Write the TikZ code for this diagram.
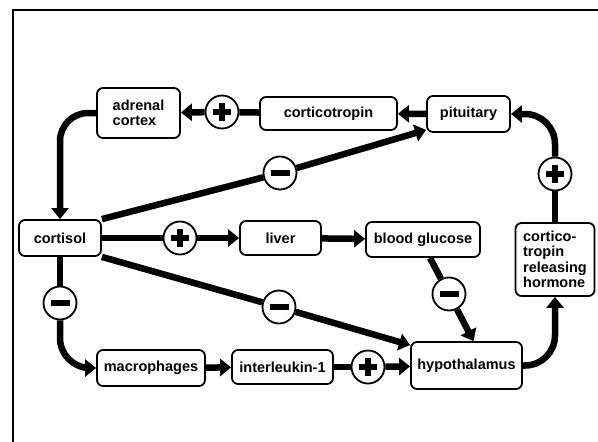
\documentclass[tikz,border=0pt]{standalone}
\usepackage{fontspec}
\setmainfont{Liberation Sans}
\usetikzlibrary{positioning}
\usetikzlibrary{arrows.meta}

\begin{document}
\begin{tikzpicture}[
  x=1pt, y=-1pt,
  font=\fontsize{14.5}{15.5}\selectfont\bfseries,
  box/.style={draw, line width=1.8pt, rounded corners=6pt, align=left, inner sep=2pt},
  sign/.style={draw, circle, line width=1.8pt, minimum size=33pt, inner sep=0pt, fill=white},
  stim/.style={sign, path picture={
      \draw[line width=5.5pt] ([xshift=-9pt]path picture bounding box.center) -- ([xshift=9pt]path picture bounding box.center);
      \draw[line width=5.5pt] ([yshift=-9pt]path picture bounding box.center) -- ([yshift=9pt]path picture bounding box.center);}},
  inhib/.style={sign, path picture={
      \draw[line width=5.5pt] ([xshift=-9.5pt]path picture bounding box.center) -- ([xshift=9.5pt]path picture bounding box.center);}},
  link/.style={line width=6.5pt},
  arrow/.style={link, -{Triangle[length=11pt, width=17pt]}}
]
\useasboundingbox (0,0) rectangle (598,442);
\begin{scope}
  \clip (0,0) rectangle (598,442);
  \draw[line width=2pt] (12.5,460) |- (620,9.5);
\end{scope}

\node[box, minimum width=83pt, minimum height=50pt] (adrenal) at (138.5,113) {adrenal\\cortex};
\node[box, minimum width=137pt, minimum height=33pt] (cortico) at (328.5,113.5) {corticotropin};
\node[box, minimum width=83pt, minimum height=36pt] (pituitary) at (468.5,114) {pituitary};
\node[box, minimum width=82pt, minimum height=36pt] (cortisol) at (60,238) {cortisol};
\node[box, minimum width=81pt, minimum height=34pt] (liver) at (280.5,238) {liver};
\node[box, minimum width=114pt, minimum height=35pt] (glucose) at (423,239.5) {blood glucose};
\node[box, minimum width=79pt, minimum height=73pt] (crh) at (555,259.5) {cortico-\\tropin\\releasing\\hormone};
\node[box, minimum width=108pt, minimum height=36pt] (macro) at (151,368) {macrophages};
\node[box, minimum width=101pt, minimum height=34pt] (il1) at (282.5,367) {interleukin-1};
\node[box, minimum width=111pt, minimum height=47pt] (hypo) at (466.5,365.5) {hypothalamus};

\node[stim] (p1) at (222,112) {};
\node[stim] (p2) at (555,174) {};
\node[inhib] (m1) at (280,173) {};
\node[stim] (p3) at (180,238) {};
\node[inhib] (m2) at (279,307) {};
\node[inhib] (m3) at (449,294) {};
\node[inhib] (m4) at (60,303) {};
\node[stim] (p4) at (368,367) {};

\draw[arrow] (pituitary) -- (cortico);
\draw[link] (cortico) -- (p1);
\draw[arrow] (p1) -- (adrenal);
\draw[arrow, rounded corners=28pt] (adrenal.west) -| (cortisol.north);
\draw[link] (cortisol.north east) -- (m1);
\draw[arrow] (m1) -- ([yshift=3pt]pituitary.south west);
\draw[link] (cortisol) -- (p3);
\draw[arrow] (p3) -- (liver);
\draw[arrow] (liver) -- (glucose);
\draw[link] (cortisol.south east) -- (m2);
\draw[arrow] (m2) -- ([yshift=-4pt]hypo.north west);
\draw[link] ([xshift=7pt]glucose.south) -- (m3);
\draw[arrow] (m3) -- ([xshift=7pt]hypo.north);
\draw[link] (cortisol) -- (m4);
\draw[arrow, rounded corners=30pt] (m4) |- (macro.west);
\draw[arrow] (macro) -- (il1);
\draw[link] (il1) -- (p4);
\draw[arrow] (p4) -- (hypo);
\draw[arrow, rounded corners=30pt] (hypo.east) -| (crh.south);
\draw[link] (crh) -- (p2);
\draw[arrow, rounded corners=30pt] (p2) |- (pituitary.east);

\end{tikzpicture}
\end{document}
